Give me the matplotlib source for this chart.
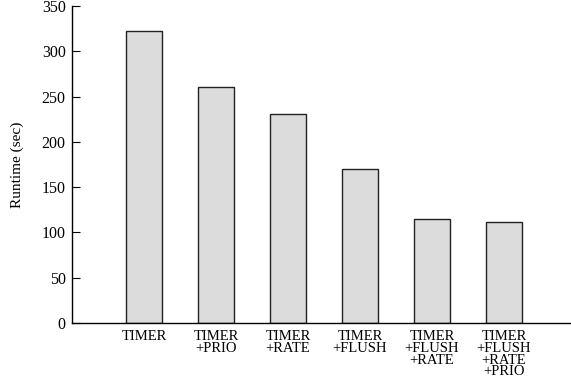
import matplotlib
matplotlib.use("Agg")
import matplotlib.pyplot as plt

categories = ["TIMER", "TIMER\n+PRIO", "TIMER\n+RATE", "TIMER\n+FLUSH",
              "TIMER\n+FLUSH\n+RATE", "TIMER\n+FLUSH\n+RATE\n+PRIO"]
runtime = [322, 261, 231, 170, 115, 112]

plt.rcParams['font.family'] = ['Liberation Serif', 'DejaVu Serif']

fig = plt.figure(figsize=(5.71, 3.83), dpi=100)
ax = fig.add_axes([72/571, 60/383, 1 - 72/571, (323-6)/383])

pos = list(range(1, len(categories) + 1))
ax.bar(pos, runtime, width=0.5, color='#dcdcdc', edgecolor='#222222', linewidth=1.0)

ax.set_xlim(0, 499/72)
ax.set_ylim(0, 350)
ax.set_yticks(range(0, 351, 50))
ax.set_xticks(pos)
ax.set_xticklabels(categories, fontsize=10.5, linespacing=0.88, va='top')
ax.tick_params(axis='x', length=0, pad=5)
ax.tick_params(axis='y', direction='in', length=6, labelsize=11.5, pad=4.5)
ax.set_ylabel("Runtime (sec)", fontsize=11)
ax.yaxis.set_label_coords(-(72-24)/499, 0.5)

for s in ['top', 'right']:
    ax.spines[s].set_visible(False)
for s in ['left', 'bottom']:
    ax.spines[s].set_linewidth(1.0)

fig.savefig("out.png", dpi=100)
